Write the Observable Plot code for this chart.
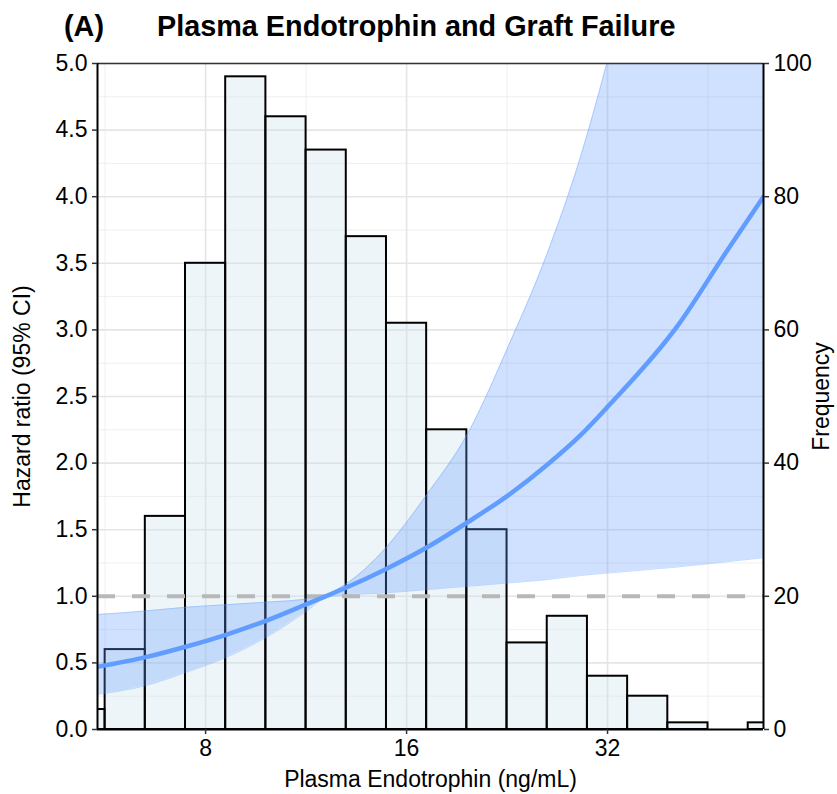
<!DOCTYPE html>
<html>
<head>
<meta charset="utf-8">
<script src="https://cdn.jsdelivr.net/npm/d3@7"></script>
<script src="https://cdn.jsdelivr.net/npm/@observablehq/plot@0.6"></script>
<style>
  html, body { margin: 0; padding: 0; background: #fff; }
  #title { position: relative; height: 40px; width: 837px; font-family: "Liberation Sans", Arial, sans-serif; font-weight: bold; font-size: 28.8px; line-height: 28px; color: #000; }
  #title span { position: absolute; top: 12px; white-space: nowrap; }
</style>
</head>
<body>
<div id="title"><span style="left:64px">(A)</span><span style="left:157px">Plasma Endotrophin and Graft Failure</span></div>
<div id="chart"></div>
<script>
// ---- data ----
// Histogram: log-spaced bin edges (ng/mL) and counts
const binEdges = [4.925, 5.657, 6.498, 7.464, 8.574, 9.849, 11.314, 12.996, 14.929, 17.148,
                  19.698, 22.627, 25.992, 29.857, 34.297, 39.396, 45.255, 51.984, 59.714];
const binCounts = [3, 12, 32, 70, 98, 92, 87, 74, 61, 45, 30, 13, 17, 8, 5, 1, 0, 1];

// Hazard ratio curve with 95% CI
const endo    = [5.51, 6.51, 7.49, 8.60, 9.87, 11.37, 12.10, 13.05, 14.63, 17.20, 19.75, 22.74, 26.02, 29.16, 32.11, 40.74, 48.41, 54.80];
const hr      = [0.47, 0.543, 0.623, 0.713, 0.818, 0.944, 1.0, 1.07, 1.185, 1.37, 1.556, 1.76, 1.99, 2.21, 2.43, 3.03, 3.60, 4.0];
const hrLower = [0.263, 0.33, 0.43, 0.543, 0.693, 0.893, 0.99, 1.01, 1.023, 1.05, 1.075, 1.10, 1.125, 1.156, 1.175, 1.22, 1.26, 1.289];
const hrUpper = [0.863, 0.89, 0.918, 0.937, 0.956, 0.981, 1.01, 1.10, 1.32, 1.77, 2.22, 2.88, 3.58, 4.30, 5.05, 7.3, 9.5, 11.5];

// Axes
const xDomain = [5.51, 54.8];
const xTicks = [8, 16, 32];
const xMinorGrid = [5.657, 11.314, 22.627, 45.255];
const hrTicks = [0, 0.5, 1, 1.5, 2, 2.5, 3, 3.5, 4, 4.5, 5];
const hrMinorGrid = [0.25, 0.75, 1.25, 1.75, 2.25, 2.75, 3.25, 3.75, 4.25, 4.75];
const freqTicks = [0, 20, 40, 60, 80, 100];
const freqPerHR = 20; // secondary axis: 100 counts = HR 5.0
const refHR = [1];

// ---- build tables ----
const bins = binCounts.map((c, i) => ({x1: binEdges[i], x2: binEdges[i + 1], count: c}));
const curve = endo.map((x, i) => ({x, hr: hr[i], lo: hrLower[i], hi: hrUpper[i]}));

const blue = "#619CFF";
const font = "'Liberation Sans', Arial, sans-serif";

const chart = Plot.plot({
  width: 837,
  height: 754,
  marginLeft: 97,
  marginRight: 74,
  marginTop: 23,
  marginBottom: 65,
  style: {fontFamily: font, fontSize: "23px", color: "#000", background: "#fff", overflow: "visible"},
  x: {type: "log", base: 2, domain: xDomain},
  y: {domain: [0, 5]},
  marks: [
    Plot.ruleY(hrMinorGrid, {stroke: "#EBEBEB", strokeWidth: 0.8}),
    Plot.ruleX(xMinorGrid, {stroke: "#EBEBEB", strokeWidth: 0.8}),
    Plot.ruleY(hrTicks, {stroke: "#E5E5E5", strokeWidth: 1.6}),
    Plot.ruleX(xTicks, {stroke: "#E5E5E5", strokeWidth: 1.6}),
    Plot.rectY(bins, {x1: "x1", x2: "x2", y: d => d.count / freqPerHR, fill: "#CFE3EA", fillOpacity: 0.35, stroke: "#000", strokeWidth: 2, clip: true}),
    Plot.areaY(curve, {x: "x", y1: "lo", y2: "hi", fill: blue, fillOpacity: 0.3, curve: "monotone-x", clip: true}),
    Plot.lineY(curve, {x: "x", y: "lo", stroke: blue, strokeOpacity: 0.45, strokeWidth: 0.8, curve: "monotone-x", clip: true}),
    Plot.lineY(curve, {x: "x", y: "hi", stroke: blue, strokeOpacity: 0.45, strokeWidth: 0.8, curve: "monotone-x", clip: true}),
    Plot.ruleY(refHR, {stroke: "#B8B8B8", strokeWidth: 4, strokeDasharray: "18,17"}),
    Plot.lineY(curve, {x: "x", y: "hr", stroke: blue, strokeWidth: 4.5, curve: "monotone-x", clip: true}),
    // panel border / axis lines
    Plot.ruleY([hrTicks[hrTicks.length - 1]], {stroke: "#333", strokeWidth: 1.5}),
    Plot.ruleY([hrTicks[0]], {stroke: "#000", strokeWidth: 2}),
    Plot.ruleX([xDomain[0]], {stroke: "#000", strokeWidth: 2}),
    Plot.ruleX([xDomain[1]], {stroke: "#000", strokeWidth: 2}),
    // axes
    Plot.axisY({anchor: "left", ticks: hrTicks, tickFormat: d3.format(".1f"), tickSize: 5, tickPadding: 5,
      stroke: "#333", strokeWidth: 1.5, fontSize: 23,
      label: "Hazard ratio (95% CI)", labelAnchor: "center", labelOffset: 84, labelArrow: "none"}),
    Plot.axisY({anchor: "right", ticks: freqTicks.map(f => f / freqPerHR), tickFormat: d => String(Math.round(d * freqPerHR)),
      tickSize: 5, tickPadding: 5, stroke: "#333", strokeWidth: 1.5, fontSize: 23,
      label: "Frequency", labelAnchor: "center", labelOffset: 65, labelArrow: "none"}),
    Plot.axisX({ticks: xTicks, tickFormat: d => String(d), tickSize: 5, tickPadding: 5,
      stroke: "#333", strokeWidth: 1.5, fontSize: 23,
      label: "Plasma Endotrophin (ng/mL)", labelAnchor: "center", labelOffset: 57, labelArrow: "none"})
  ]
});
document.getElementById("chart").appendChild(chart);
</script>
</body>
</html>
